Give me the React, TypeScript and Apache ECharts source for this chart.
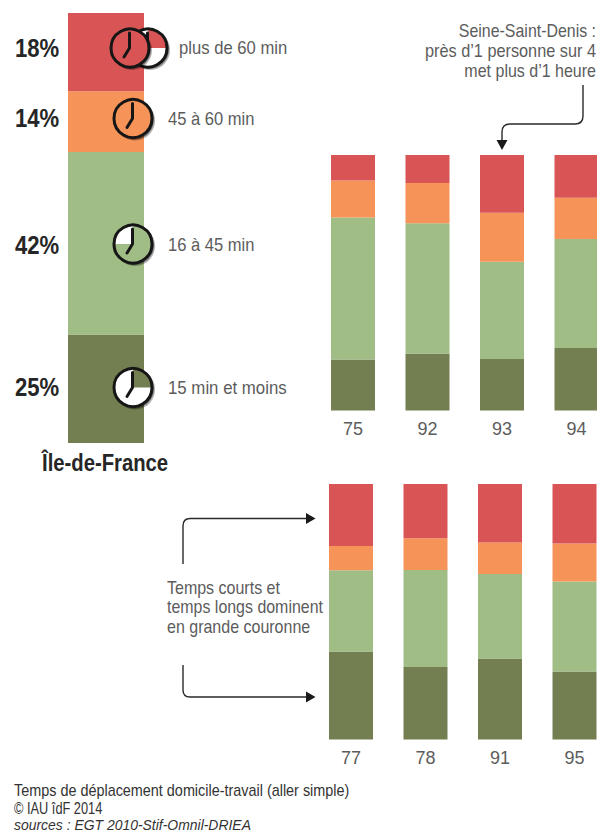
import React, { useEffect, useRef } from "react";
import * as echarts from "echarts";

const regionName = ["Île-de-France"];
const regionLong = [25];
const regionMid = [42];
const regionNear = [14];
const regionFar = [18];

const innerDeps = ["75", "92", "93", "94"];
const innerShort = [20, 22.3, 20.2, 24.5];
const innerMid = [55.5, 51, 38, 42.6];
const innerNear = [14.5, 15.7, 19.2, 16.2];
const innerFar = [10, 11, 22.6, 16.7];

const outerDeps = ["77", "78", "91", "95"];
const outerShort = [34.4, 28.4, 31.7, 26.6];
const outerMid = [31.8, 37.9, 33.1, 35.2];
const outerNear = [9.5, 12.5, 12.3, 14.9];
const outerFar = [24.3, 21.2, 22.9, 23.3];

const classNames = ["15 min et moins", "16 à 45 min", "45 à 60 min", "plus de 60 min"];
const classColors = ["#737f50", "#a0bd86", "#f59358", "#d95555"];

const FONT = '"Liberation Sans", sans-serif';
const INK = "#262626";
const GREY = "#5c5c5c";

echarts.graphic.registerShape(
  "arrowA",
  echarts.graphic.extendPath("M583 85 L583 116 Q583 124 575 124 L510 124 Q502 124 502 132 L502 141", {})
);
echarts.graphic.registerShape(
  "arrowB",
  echarts.graphic.extendPath("M183 564 L183 526 Q183 518.5 190 518.5 L307 518.5", {})
);
echarts.graphic.registerShape(
  "arrowC",
  echarts.graphic.extendPath("M183 665 L183 690 Q183 697 190 697 L307 697", {})
);

function stacked(gridIndex: number, cols: number[][], barWidth: number) {
  return cols.map((data, i) => ({
    type: "bar",
    name: classNames[i],
    stack: "g" + gridIndex,
    xAxisIndex: gridIndex,
    yAxisIndex: gridIndex,
    barWidth,
    data,
    itemStyle: { color: classColors[i] },
    silent: true,
  }));
}

function clock(cx: number, cy: number, face: string, wedge: string | null, start: number, end: number, z: number) {
  const els: any[] = [
    { type: "circle", shape: { cx: cx + 2, cy: cy + 2, r: 20 }, style: { fill: "rgba(0,0,0,0.3)" }, z },
    { type: "circle", shape: { cx: cx + 1, cy: cy + 1, r: 20 }, style: { fill: "rgba(0,0,0,0.35)" }, z: z + 0.1 },
    { type: "circle", shape: { cx, cy, r: 19 }, style: { fill: face }, z: z + 0.2 },
  ];
  if (wedge) {
    els.push({
      type: "sector",
      shape: { cx, cy, r0: 0, r: 19, startAngle: start, endAngle: end, clockwise: true },
      style: { fill: wedge },
      z: z + 0.3,
    });
  }
  els.push(
    { type: "circle", shape: { cx, cy, r: 19 }, style: { fill: "none", stroke: "#161616", lineWidth: 3 }, z: z + 0.4 },
    {
      type: "polyline",
      shape: { points: [[cx - 0.5, cy - 15], [cx - 0.5, cy], [cx - 6, cy + 9]] },
      style: { fill: "none", stroke: "#161616", lineWidth: 3, lineCap: "round", lineJoin: "round" },
      z: z + 0.5,
    }
  );
  return els;
}

function label(text: string, x: number, y: number, size: number, fill: string, scaleX: number, extra: any = {}) {
  return {
    type: "text",
    x,
    y,
    scaleX,
    z: 20,
    style: { text, fontFamily: FONT, fontSize: size, fill, textVerticalAlign: "middle", ...extra },
  };
}

function arrowHead(points: number[][]) {
  return { type: "polygon", shape: { points }, style: { fill: "#1a1a1a" }, z: 20 };
}

const PI = Math.PI;

export default function App() {
  const ref = useRef<HTMLDivElement>(null);
  useEffect(() => {
    document.body.style.margin = "0";
    const chart = echarts.init(ref.current!, null, { renderer: "svg" });
    const hiddenY = (max: number, gridIndex: number) => ({
      type: "value",
      gridIndex,
      min: 0,
      max,
      show: false,
    });
    const catAxis = (data: string[], gridIndex: number, showLabel: boolean) => ({
      type: "category",
      gridIndex,
      data,
      axisLine: { show: false },
      axisTick: { show: false },
      axisLabel: { show: showLabel, fontFamily: FONT, fontSize: 18, color: GREY, margin: 9 },
    });
    const bold = { fontWeight: "bold" };
    const right = { textAlign: "right" };
    chart.setOption({
      animation: false,
      backgroundColor: "#ffffff",
      grid: [
        { left: 68, top: 13, width: 76, height: 430 },
        { left: 315.75, top: 155, width: 298, height: 255.5 },
        { left: 313.75, top: 484, width: 298, height: 255.5 },
      ],
      xAxis: [catAxis(regionName, 0, false), catAxis(innerDeps, 1, true), catAxis(outerDeps, 2, true)],
      yAxis: [hiddenY(99, 0), hiddenY(100, 1), hiddenY(100, 2)],
      series: [
        ...stacked(0, [regionLong, regionMid, regionNear, regionFar], 76),
        ...stacked(1, [innerShort, innerMid, innerNear, innerFar], 44),
        ...stacked(2, [outerShort, outerMid, outerNear, outerFar], 44),
      ],
      graphic: [
        ...clock(148, 48, "#ffffff", classColors[3], -PI / 2, 0, 10),
        ...clock(130, 48, classColors[3], null, 0, 0, 11),
        ...clock(133, 118.5, classColors[2], null, 0, 0, 10),
        ...clock(133, 244, classColors[1], "#ffffff", PI, PI * 1.5, 10),
        ...clock(133, 387.5, "#ffffff", classColors[0], -PI / 2, 0, 10),

        label(regionFar[0] + "%", 15, 48, 26, INK, 0.85, bold),
        label(regionNear[0] + "%", 15, 118, 26, INK, 0.85, bold),
        label(regionMid[0] + "%", 15, 245, 26, INK, 0.85, bold),
        label(regionLong[0] + "%", 15, 387, 26, INK, 0.85, bold),
        label(regionName[0], 42, 463, 24, INK, 0.845, bold),

        label(classNames[3], 179, 48, 18, GREY, 0.925),
        label(classNames[2], 168, 119, 18, GREY, 0.92),
        label(classNames[1], 168, 245, 18, GREY, 0.92),
        label(classNames[0], 168, 388, 18, GREY, 0.935),

        label("Seine-Saint-Denis :", 596, 31, 18, GREY, 0.885, right),
        label("près d’1 personne sur 4", 596, 51, 18, GREY, 0.905, right),
        label("met plus d’1 heure", 596, 71, 18, GREY, 0.89, right),

        label("Temps courts et", 167, 588, 18, GREY, 0.89),
        label("temps longs dominent", 167, 607, 18, GREY, 0.886),
        label("en grande couronne", 167, 627, 18, GREY, 0.89),

        label("Temps de déplacement domicile-travail (aller simple)", 14, 790, 16, "#333333", 0.9),
        label("© IAU îdF 2014", 14, 808, 16, "#333333", 0.8),
        label("sources : EGT 2010-Stif-Omnil-DRIEA", 14, 825, 15, "#333333", 0.93, { fontStyle: "italic" }),

        { type: "arrowA", x: 0, y: 0, style: { fill: "none", stroke: "#2a2a2a", lineWidth: 1.4 }, z: 19 },
        { type: "arrowB", x: 0, y: 0, style: { fill: "none", stroke: "#2a2a2a", lineWidth: 1.4 }, z: 19 },
        { type: "arrowC", x: 0, y: 0, style: { fill: "none", stroke: "#2a2a2a", lineWidth: 1.4 }, z: 19 },
        arrowHead([[496.5, 140], [507.5, 140], [502, 150]]),
        arrowHead([[306, 513], [306, 524], [315.5, 518.5]]),
        arrowHead([[306, 691.5], [306, 702.5], [315.5, 697]]),
      ],
    });
    return () => chart.dispose();
  }, []);
  return (
    <div style={{ width: 597, height: 834, position: "absolute", left: 0, top: 0, overflow: "hidden" }}>
      <div ref={ref} style={{ width: 640, height: 834 }} />
    </div>
  );
}
